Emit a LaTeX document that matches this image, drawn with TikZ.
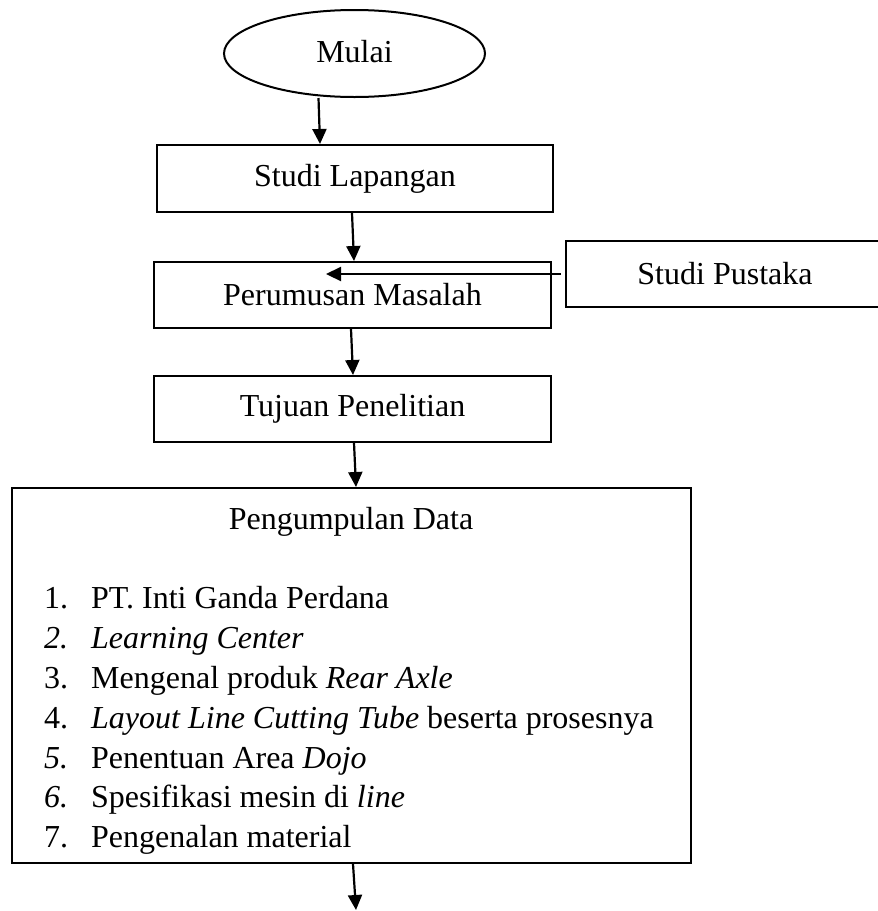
\documentclass[tikz,border=0pt]{standalone}
\usepackage{fontspec}
\setmainfont{Liberation Serif}
\usetikzlibrary{shapes.geometric,arrows.meta}
\tikzset{
  txt/.style={font=\fontsize{32}{38}\selectfont, inner sep=0pt},
  procbox/.style={txt, draw=black, line width=2pt, rectangle, fill=white},
  startnode/.style={txt, draw=black, line width=2pt, ellipse, fill=white},
  flow/.style={line width=2.2pt, -{Triangle[length=15pt,width=14pt]}},
  itemtxt/.style={txt, anchor=base west}
}
\begin{document}
\begin{tikzpicture}[x=1pt,y=-1pt]
\clip (0,0) rectangle (878,911);
\fill[white] (0,0) rectangle (878,911);

\node[startnode, minimum width=261pt, minimum height=87pt] (mulai) at (354.5,53.5) {\raisebox{4pt}{Mulai}};
\node[procbox, minimum width=396pt, minimum height=67pt] (lap) at (355,178.5) {Studi Lapangan};
\node[procbox, minimum width=397pt, minimum height=66pt] (rum) at (352.5,295) {Perumusan Masalah};
\node[procbox, minimum width=318pt, minimum height=66pt] (pus) at (725,274) {Studi Pustaka};
\node[procbox, minimum width=397pt, minimum height=66pt] (tuj) at (352.5,409) {Tujuan Penelitian};
\node[procbox, minimum width=679pt, minimum height=375pt] (data) at (351.5,675.5) {};

\node[txt, anchor=base] (dtitle) at (351,529) {Pengumpulan Data};
\node[itemtxt] (n1) at (44,608) {1.};
\node[itemtxt] (t1) at (91,608) {PT. Inti Ganda Perdana};
\node[itemtxt] (n2) at (44,648) {\itshape 2.};
\node[itemtxt] (t2) at (91,648) {\itshape Learning Center};
\node[itemtxt] (n3) at (44,688) {3.};
\node[itemtxt] (t3) at (91,688) {Mengenal produk \textit{Rear Axle}};
\node[itemtxt] (n4) at (44,728) {4.};
\node[itemtxt] (t4) at (91,728) {\textit{Layout Line Cutting Tube} beserta prosesnya};
\node[itemtxt] (n5) at (44,768) {\itshape 5.};
\node[itemtxt] (t5) at (91,768) {Penentuan Area \textit{Dojo}};
\node[itemtxt] (n6) at (44,807) {\itshape 6.};
\node[itemtxt] (t6) at (91,807) {Spesifikasi mesin di \textit{line}};
\node[itemtxt] (n7) at (44,847) {7.};
\node[itemtxt] (t7) at (91,847) {Pengenalan material};

\coordinate (pm) at (326,274);
\coordinate (endpt) at (356,910);

\draw[flow] ([xshift=-36pt]mulai.south) -- ([xshift=-35pt]lap.north);
\draw[flow] ([xshift=-3pt]lap.south) -- ([xshift=1.5pt]rum.north);
\draw[flow] ([xshift=-4pt]pus.west) -- (pm);
\draw[flow] ([xshift=-1.5pt]rum.south) -- ([xshift=0.5pt]tuj.north);
\draw[flow] ([xshift=1.5pt]tuj.south) -- ([xshift=4.5pt]data.north);
\draw[flow] ([xshift=1.5pt]data.south) -- (endpt);
\end{tikzpicture}
\end{document}
